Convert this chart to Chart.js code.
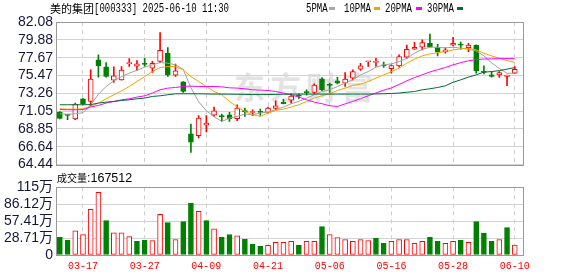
<!DOCTYPE html>
<html lang="zh-CN">
<head>
<meta charset="UTF-8">
<title>美的集团[000333] 日K</title>
<script src="https://cdn.jsdelivr.net/npm/chart.js@4"></script>
<style>
    body { margin: 0; width: 578px; height: 276px; background: #fff; position: relative; overflow: hidden; }
    canvas { position: absolute; left: 0; z-index: 1; }
    .t { position: absolute; white-space: nowrap; color: #000; z-index: 2; }
    .cjk { font-family: "Noto Sans CJK SC", sans-serif; }
    .mono { font-family: "Liberation Mono", "DejaVu Sans Mono", monospace; font-size: 12px; transform: scaleX(0.75); transform-origin: left top; }
    .sq { position: absolute; width: 6px; height: 3px; top: 7px; }
    #wm { position: absolute; left: 234px; top: 63px; white-space: nowrap; font: 700 31px "Noto Sans CJK SC", sans-serif; letter-spacing: 5px; color: #e3e3e3; z-index: 0; }
</style>
</head>
<body>
    <!-- 标题和均线图例 -->
    <div class="t cjk" style="left:50px;top:1px;font-size:11px;line-height:14px;">美的集团</div>
    <div class="t mono" style="left:94px;top:2px;line-height:14px;">[000333] 2025-06-10 11:30</div>
    <div class="t mono" style="left:306px;top:2px;line-height:14px;">5PMA</div>
    <div class="sq" style="left:329px;background:#a8a8a8;"></div>
    <div class="t mono" style="left:344px;top:2px;line-height:14px;">10PMA</div>
    <div class="sq" style="left:374px;background:#f5a300;"></div>
    <div class="t mono" style="left:385px;top:2px;line-height:14px;">20PMA</div>
    <div class="sq" style="left:416px;background:#ff00ff;"></div>
    <div class="t mono" style="left:427px;top:2px;line-height:14px;">30PMA</div>
    <div class="sq" style="left:457px;background:#006b35;"></div>

    <div id="wm">东方财富</div>

    <canvas id="kline" width="578" height="176" style="top:0"></canvas>

    <div class="t" style="left:57px;top:170px;line-height:14px;">
        <span class="cjk" style="font-size:10px;">成交量</span><span style="font:12.5px 'Liberation Sans', Arial, sans-serif;">:167512</span>
    </div>

    <canvas id="vol" width="578" height="100" style="top:176px"></canvas>

    <script>
        // 日期刻度 (K线序号)
        const xLabels = ['03-17', '03-27', '04-09', '04-21', '05-06', '05-16', '05-28', '06-10'];
        const xLabelIdx = [3, 11, 19, 27, 35, 43, 51, 59];

        // 价格刻度
        const priceTicks = [64.44, 66.64, 68.85, 71.05, 73.26, 75.47, 77.67, 79.88, 82.08];
        const volTicks = [0, 28.71, 57.41, 86.12, 114.84];
        const volTickLabels = ['0', '28.71万', '57.41万', '86.12万', '115万'];

        // K线: 开 收 高 低
        const openP = [70.94, 70.58, 70.08, 72.58, 72.25, 77.39, 76.53, 74.88, 74.93, 76.94,
            76.61, 76.88, 76.36, 77.19, 78.22, 75.50, 74.68, 68.26, 68.02, 69.33,
            70.57, 70.42, 70.61, 70.12, 71.04, 70.88, 70.94, 70.90, 71.39, 72.17,
            72.42, 72.95, 73.38, 73.36, 75.05, 74.30, 74.80, 74.51, 75.13, 76.24,
            77.16, 77.09, 76.78, 76.32, 76.65, 77.72, 78.71, 78.96, 79.45, 78.91,
            78.38, 79.20, 79.26, 78.91, 79.20, 75.89, 75.54, 75.54, 75.36, 75.75];
        const closeP = [70.16, 70.53, 71.92, 71.97, 75.01, 76.69, 75.34, 75.42, 76.12, 76.98,
            76.90, 76.84, 76.98, 78.59, 75.54, 76.04, 73.49, 67.20, 70.20, 69.58,
            71.10, 70.38, 70.12, 71.43, 71.00, 70.92, 70.90, 71.43, 71.72, 71.97,
            72.91, 72.90, 73.34, 74.27, 73.69, 74.25, 74.51, 75.01, 75.95, 76.65,
            77.19, 77.13, 76.66, 76.70, 77.80, 78.71, 78.96, 79.53, 79.04, 78.38,
            78.63, 79.45, 79.22, 79.24, 76.04, 75.85, 75.34, 75.83, 75.50, 76.24];
        const highP = [71.00, 70.65, 72.05, 72.62, 76.16, 78.01, 77.06, 76.53, 76.57, 77.56,
            77.31, 77.60, 77.23, 80.76, 78.91, 76.86, 74.70, 69.46, 70.49, 70.49,
            71.55, 70.69, 70.90, 71.84, 71.43, 71.23, 71.31, 71.55, 72.34, 72.54,
            73.20, 73.20, 73.69, 74.43, 75.21, 74.51, 75.25, 75.83, 76.16, 76.98,
            77.19, 77.60, 77.11, 76.78, 78.01, 79.24, 79.57, 79.86, 80.60, 79.33,
            78.91, 80.19, 79.61, 79.45, 79.26, 76.65, 75.95, 75.95, 75.52, 76.57];
        const lowP = [70.10, 70.00, 70.00, 71.85, 71.72, 75.25, 75.25, 74.60, 74.88, 76.57,
            76.08, 76.57, 75.83, 77.06, 75.34, 75.34, 73.36, 65.96, 67.73, 68.47,
            70.40, 69.79, 69.79, 69.87, 70.40, 70.48, 70.53, 70.81, 71.23, 71.95,
            72.05, 72.62, 73.03, 73.20, 73.57, 73.36, 74.43, 74.10, 74.93, 76.08,
            76.57, 76.57, 76.45, 75.75, 76.49, 77.60, 78.68, 78.63, 78.96, 77.89,
            78.22, 79.12, 78.71, 78.42, 75.75, 75.67, 75.25, 75.21, 74.20, 75.70];

        // 均线
        const ma5 = [70.73, 70.67, 70.73, 70.86, 71.84, 73.14, 74.10, 74.80, 75.33, 75.75,
            76.10, 76.49, 76.78, 77.06, 76.99, 76.78, 76.22, 73.94, 72.21, 71.10,
            70.36, 69.78, 70.18, 70.40, 70.69, 70.61, 70.82, 70.94, 71.23, 71.56,
            71.97, 72.25, 72.67, 73.08, 73.48, 73.69, 74.10, 74.52, 74.93, 75.54,
            75.95, 76.49, 76.78, 76.90, 77.18, 77.58, 78.22, 78.71, 78.96, 78.96,
            78.87, 78.96, 78.84, 78.71, 78.50, 77.89, 77.02, 76.34, 75.73, 75.75];
        const ma10 = [71.35, 71.30, 71.30, 71.35, 71.63, 72.05, 72.58, 73.08, 73.57, 74.10,
            74.72, 75.33, 75.95, 76.44, 76.57, 76.57, 76.16, 75.33, 74.72, 74.10,
            73.48, 73.08, 72.25, 71.56, 71.02, 70.61, 70.40, 70.82, 71.14, 71.31,
            71.56, 71.84, 72.25, 72.67, 72.95, 73.20, 73.61, 73.90, 74.22, 74.40,
            74.72, 75.14, 75.54, 75.95, 76.37, 76.99, 77.48, 77.89, 78.13, 78.29,
            78.42, 78.63, 78.75, 78.84, 78.63, 78.22, 77.89, 77.60, 77.31, 77.08];
        const ma20 = [71.25, 71.22, 71.22, 71.25, 71.56, 71.76, 72.05, 72.25, 72.46, 72.58,
            72.79, 72.95, 73.29, 73.69, 73.90, 73.98, 74.10, 74.15, 74.10, 74.10,
            74.10, 74.06, 73.94, 73.90, 73.82, 73.69, 73.65, 73.61, 73.48, 73.29,
            73.08, 72.79, 72.46, 72.17, 71.97, 71.72, 71.63, 71.95, 72.25, 72.60,
            72.95, 73.30, 73.65, 73.92, 74.35, 74.80, 75.20, 75.55, 75.90, 76.18,
            76.45, 76.78, 77.05, 77.28, 77.42, 77.50, 77.52, 77.55, 77.55, 77.55];
        const ma30 = [71.84, 71.84, 71.84, 71.84, 71.86, 72.05, 72.17, 72.25, 72.37, 72.46,
            72.58, 72.67, 72.87, 72.95, 73.08, 73.20, 73.20, 73.20, 73.20, 73.18,
            73.16, 73.16, 73.15, 73.14, 73.12, 73.10, 73.10, 73.10, 73.12, 73.14,
            73.16, 73.16, 73.16, 73.16, 73.16, 73.16, 73.16, 73.16, 73.16, 73.16,
            73.16, 73.18, 73.20, 73.24, 73.29, 73.39, 73.48, 73.69, 73.82, 73.98,
            74.19, 74.62, 74.93, 75.26, 75.54, 75.88, 75.95, 76.07, 76.25, 76.44];

        // 成交量 (万手) 与 涨跌
        const volume = [29.96, 25.5, 41.1, 34.9, 77.7, 106.5, 58.3, 37.7, 37.7, 31.1,
            23.3, 25.0, 24.4, 69.3, 54.9, 26.1, 56.6, 88.2, 74.3, 58.3,
            44.4, 30.0, 34.9, 32.7, 26.6, 18.3, 15.0, 16.6, 21.6, 21.6,
            23.3, 16.6, 23.3, 23.3, 48.3, 34.9, 29.4, 26.1, 23.3, 26.1,
            24.4, 28.3, 20.0, 23.3, 26.1, 26.1, 20.0, 23.3, 30.0, 23.3,
            20.0, 23.3, 25.0, 21.6, 56.6, 37.2, 23.3, 26.1, 46.6, 16.75];
        const volumeUp = [0, 0, 1, 1, 1, 1, 0, 1, 1, 1, 0, 0, 1, 1, 0, 1, 0, 0, 1, 0,
            1, 0, 0, 1, 0, 0, 0, 1, 1, 1, 1, 0, 1, 1, 0, 1, 1, 1, 1, 1,
            1, 0, 0, 1, 1, 1, 1, 1, 0, 0, 1, 1, 0, 1, 0, 0, 0, 1, 0, 1];

        const RED = '#ff0000';
        const GREEN = '#008000';
        const tickFont = { family: "'Liberation Sans Narrow', 'Arial Narrow', 'Liberation Sans', Arial, sans-serif", size: 14 };
        const tickColor = '#16163a';

        const candleUp = closeP.map((c, i) => c >= openP[i]);

        // 边框
        const frame = {
            id: 'frame',
            afterDraw(chart) {
                const { ctx, chartArea: a } = chart;
                ctx.save();
                ctx.strokeStyle = '#999';
                ctx.lineWidth = 1;
                ctx.strokeRect(Math.round(a.left) + 0.5, Math.round(a.top) + 0.5,
                    Math.round(a.right - a.left), Math.round(a.bottom - a.top));
                ctx.restore();
            }
        };

        function xScale(showLabels) {
            return {
                type: 'linear',
                min: -0.5,
                max: 60.07,
                offset: false,
                grid: { offset: false, color: '#cdcdcd', drawTicks: false },
                border: { display: false, dash: [4, 4] },
                ticks: {
                    display: showLabels,
                    autoSkip: false,
                    maxRotation: 0,
                    padding: 5,
                    color: RED,
                    font: { family: "'Liberation Mono', 'DejaVu Sans Mono', monospace", size: 10 },
                    callback: (v, i) => xLabels[i]
                },
                afterBuildTicks: s => { s.ticks = xLabelIdx.map(v => ({ value: v })); },
                afterFit: s => { s.height = showLabels ? 21 : 0; }
            };
        }

        function yScale(ticks, labels) {
            return {
                min: ticks[0],
                max: ticks[ticks.length - 1],
                grid: { color: '#d2d2d2', drawTicks: false },
                border: { display: false },
                ticks: {
                    autoSkip: false,
                    padding: 3,
                    color: tickColor,
                    font: tickFont,
                    callback: (v, i) => labels[i]
                },
                afterBuildTicks: s => { s.ticks = ticks.map(v => ({ value: v })); },
                afterFit: s => { s.width = 56; }
            };
        }

        function maSet(arr, color) {
            return {
                type: 'line',
                data: arr.map((v, i) => ({ x: i, y: v })),
                borderColor: color,
                borderWidth: 1,
                pointRadius: 0,
                tension: 0,
                order: 0
            };
        }

        new Chart(document.getElementById('kline'), {
            type: 'bar',
            data: {
                datasets: [
                    maSet(ma30, '#006b35'),
                    maSet(ma20, '#ff00ff'),
                    maSet(ma10, '#f5a300'),
                    maSet(ma5, '#a0a0a0'),
                    {
                        // 实体
                        data: openP.map((o, i) => ({ x: i, y: [Math.min(o, closeP[i]), Math.max(o, closeP[i])] })),
                        backgroundColor: candleUp.map(u => u ? '#ffffff' : GREEN),
                        borderColor: candleUp.map(u => u ? RED : GREEN),
                        borderWidth: 1,
                        borderSkipped: false,
                        barThickness: 5,
                        minBarLength: 1,
                        grouped: false,
                        order: 1
                    },
                    {
                        // 影线
                        data: highP.map((h, i) => ({ x: i, y: [lowP[i], h] })),
                        backgroundColor: candleUp.map(u => u ? RED : GREEN),
                        barThickness: 1,
                        grouped: false,
                        order: 2
                    }
                ]
            },
            options: {
                responsive: false,
                animation: false,
                layout: { padding: { left: 0, right: 55, top: 22, bottom: 11 } },
                plugins: { legend: { display: false }, tooltip: { enabled: false } },
                scales: {
                    x: xScale(false),
                    y: yScale(priceTicks, priceTicks.map(v => v.toFixed(2)))
                }
            },
            plugins: [frame]
        });

        new Chart(document.getElementById('vol'), {
            type: 'bar',
            data: {
                datasets: [{
                    data: volume.map((v, i) => ({ x: i, y: v })),
                    backgroundColor: volumeUp.map(u => u ? '#ffffff' : GREEN),
                    borderColor: volumeUp.map(u => u ? RED : GREEN),
                    borderWidth: 1,
                    borderSkipped: false,
                    barThickness: 5,
                    grouped: false
                }]
            },
            options: {
                responsive: false,
                animation: false,
                layout: { padding: { left: 0, right: 55, top: 10, bottom: 0 } },
                plugins: { legend: { display: false }, tooltip: { enabled: false } },
                scales: {
                    x: xScale(true),
                    y: yScale(volTicks, volTickLabels)
                }
            },
            plugins: [frame]
        });
    </script>
</body>
</html>
